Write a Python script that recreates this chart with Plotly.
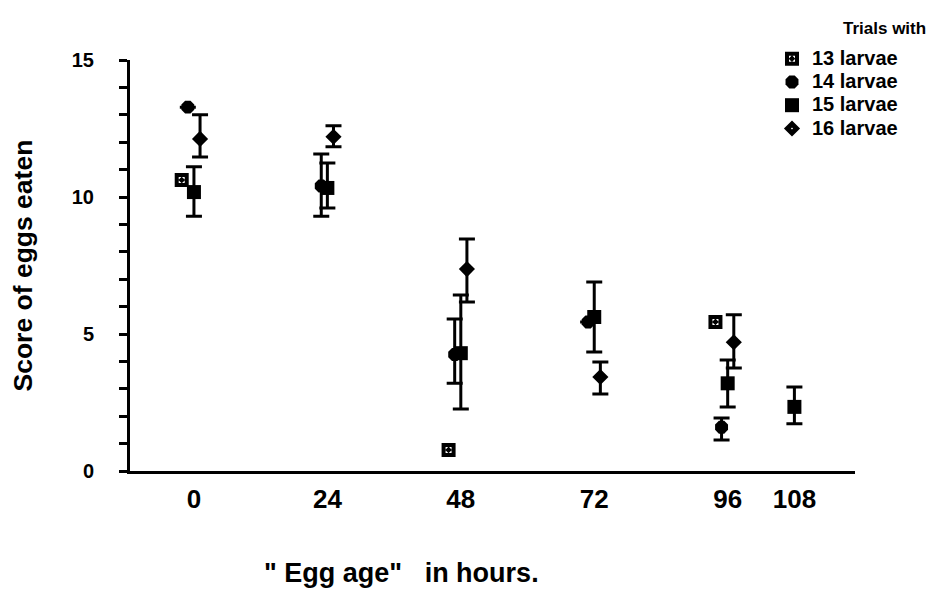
import plotly.graph_objects as go

hours = [0, 24, 48, 72, 96, 108]
tick_labels = ["0", "24", "48", "72", "96", "108"]

# 13 larvae (no error bars visible)
l13 = [10.62, None, 0.77, None, 5.44, None]

# 14 larvae
l14 = [13.28, 10.40, 4.25, 5.44, 1.60, None]
l14_hi = [None, 11.57, 5.55, None, 1.93, None]
l14_lo = [None, 9.30, 3.20, None, 1.13, None]

# 15 larvae
l15 = [10.18, 10.33, 4.30, 5.62, 3.20, 2.34]
l15_hi = [11.10, 11.24, 6.42, 6.90, 4.05, 3.07]
l15_lo = [9.30, 9.60, 2.26, 4.34, 2.34, 1.72]

# 16 larvae
l16 = [12.12, 12.20, 7.37, 3.43, 4.70, None]
l16_hi = [13.00, 12.60, 8.47, 3.98, 5.70, None]
l16_lo = [11.46, 11.83, 6.17, 2.81, 3.76, None]

FONT = "Liberation Sans, Arial, sans-serif"
offsets = {"13": -2.2, "14": -1.1, "15": 0.0, "16": 1.1}


def errs(vals, hi, lo):
    plus = [None if (v is None or h is None) else h - v for v, h in zip(vals, hi)]
    minus = [None if (v is None or l is None) else v - l for v, l in zip(vals, lo)]
    return plus, minus


def lname(s):
    return "<span style='font-size:20px'>" + s + "</span>"


fig = go.Figure()

fig.add_trace(go.Scatter(
    x=[h + offsets["13"] for h in hours], y=l13, mode="markers", name=lname("13 larvae"),
    marker=dict(symbol="square-open-dot", size=10, color="black", line=dict(color="black", width=4)),
))

p, m = errs(l14, l14_hi, l14_lo)
fig.add_trace(go.Scatter(
    x=[h + offsets["14"] for h in hours], y=l14, mode="markers", name=lname("14 larvae"),
    marker=dict(symbol="octagon", size=14, color="black", line=dict(width=0)),
    error_y=dict(type="data", symmetric=False, array=p, arrayminus=m, color="black", thickness=3, width=8),
))

p, m = errs(l15, l15_hi, l15_lo)
fig.add_trace(go.Scatter(
    x=[h + offsets["15"] for h in hours], y=l15, mode="markers", name=lname("15 larvae"),
    marker=dict(symbol="square", size=14, color="black", line=dict(width=0)),
    error_y=dict(type="data", symmetric=False, array=p, arrayminus=m, color="black", thickness=3, width=8),
))

p, m = errs(l16, l16_hi, l16_lo)
fig.add_trace(go.Scatter(
    x=[h + offsets["16"] for h in hours], y=l16, mode="markers", name=lname("16 larvae"),
    marker=dict(symbol="diamond-open", size=7, color="black", line=dict(color="black", width=5)),
    error_y=dict(type="data", symmetric=False, array=p, arrayminus=m, color="black", thickness=3, width=8),
))

fig.update_layout(
    width=931, height=594,
    margin=dict(l=130, r=76, t=60, b=123),
    paper_bgcolor="white", plot_bgcolor="white",
    font=dict(family=FONT, color="black", weight="bold"),
    showlegend=True,
    legend=dict(
        x=(792 - 20 - 130) / 725, xanchor="left",
        y=(471 - 42) / 411, yanchor="top",
        font=dict(family=FONT, size=15.6, color="black", weight="bold"),
        bgcolor="rgba(0,0,0,0)", borderwidth=0,
    ),
    xaxis=dict(
        range=[-11.5, 118.9], tickvals=hours, ticktext=tick_labels,
        showgrid=False, zeroline=False, showline=True, linecolor="black", linewidth=3,
        ticks="", tickfont=dict(family=FONT, size=26, weight="bold"), ticklabelstandoff=3,
    ),
    yaxis=dict(
        range=[0, 15], tickvals=[0, 5, 10, 15],
        showgrid=False, zeroline=False, showline=True, linecolor="black", linewidth=3,
        ticks="outside", ticklen=8, tickwidth=2.5, tickcolor="black",
        minor=dict(dtick=1, ticks="outside", ticklen=8, tickwidth=2.5, tickcolor="black"),
        tickfont=dict(family=FONT, size=20, weight="bold"), ticklabelstandoff=21,
    ),
    annotations=[
        dict(text="Trials with", xref="paper", yref="paper",
             x=(928 - 130) / 725, y=(471 - 28) / 411, xanchor="right", yanchor="middle",
             showarrow=False, font=dict(family=FONT, size=17, weight="bold")),
        dict(text="Score of eggs eaten", xref="paper", yref="paper",
             x=(22 - 130) / 725, y=0.5, xanchor="center", yanchor="middle", textangle=-90,
             showarrow=False, font=dict(family=FONT, size=26.5, weight="bold")),
        dict(text="\"\u00a0Egg age\"\u00a0\u00a0 in hours.", xref="paper", yref="paper",
             x=(401 - 130) / 725, y=(471 - 573) / 411, xanchor="center", yanchor="middle",
             showarrow=False, font=dict(family=FONT, size=27, weight="bold")),
    ],
)

fig.write_html("out.html")
